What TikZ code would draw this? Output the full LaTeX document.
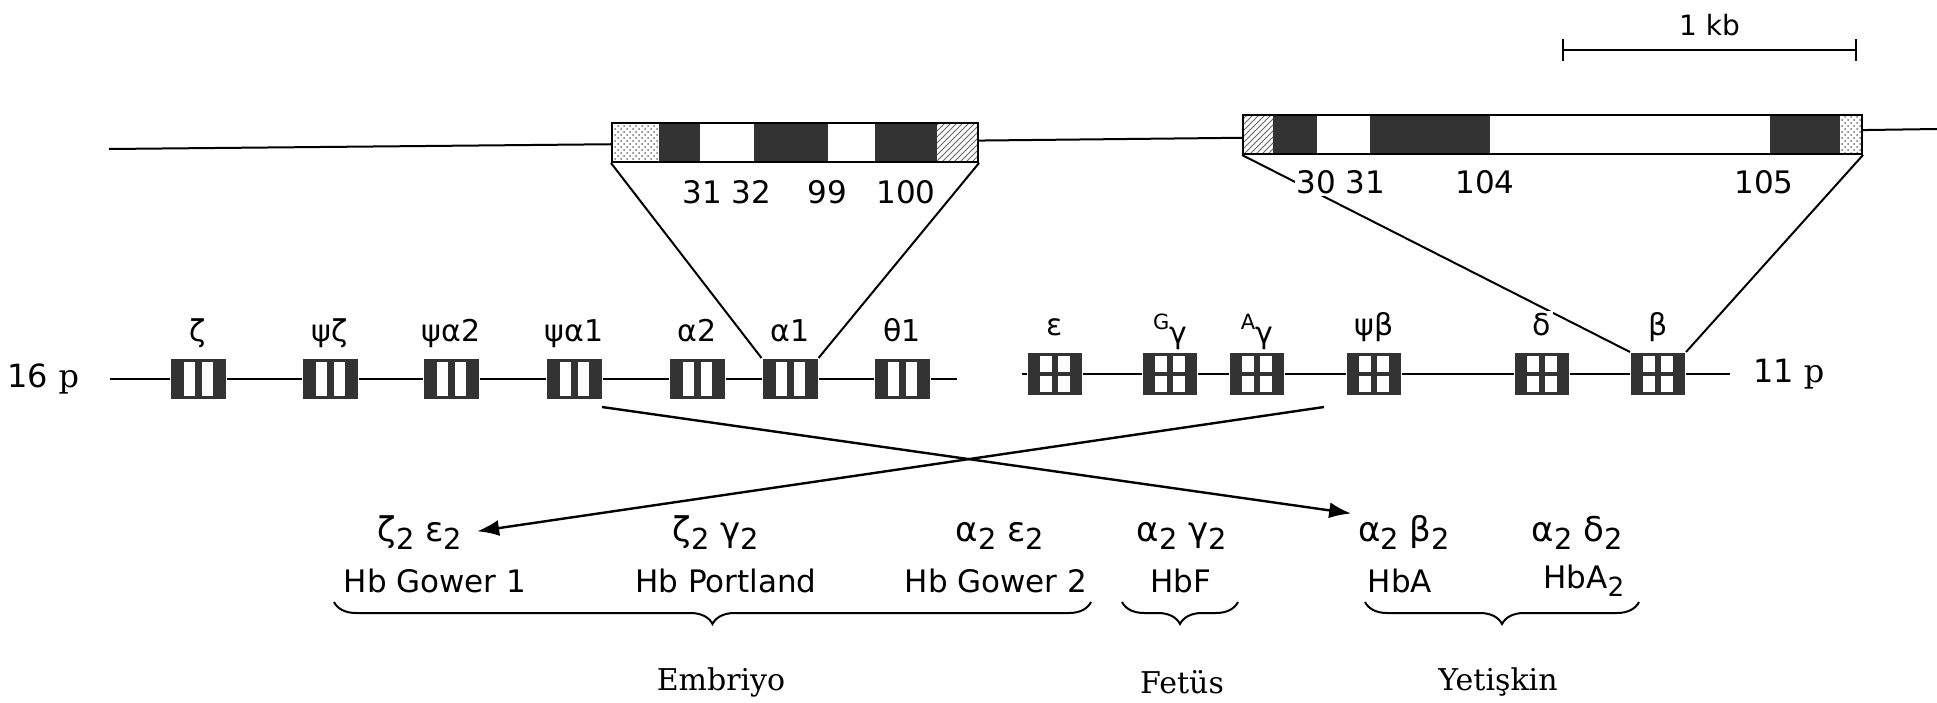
\documentclass[tikz,border=0pt]{standalone}
\usepackage{fontspec}
\setmainfont{DejaVu Serif}
\setsansfont{DejaVu Sans}
\usetikzlibrary{positioning,arrows.meta,patterns,decorations.pathreplacing}
\tikzstyle{exon}=[fill=black!80]
\tikzstyle{agene}=[rectangle,fill=black!80,inner sep=0pt,minimum width=27.5pt,minimum height=20pt,
  path picture={\foreach \i in {6.5,15.5} \fill[white] ([xshift=\i pt,yshift=1.5pt]path picture bounding box.south west) rectangle ++(5.5pt,17pt);}]
\tikzstyle{bgene}=[rectangle,fill=black!80,inner sep=0pt,minimum width=27pt,minimum height=21pt,
  path picture={\foreach \i in {6,15} \foreach \j in {1.5,11.5} \fill[white] ([xshift=\i pt,yshift=\j pt]path picture bounding box.south west) rectangle ++(6pt,8pt);}]
\tikzstyle{glabel}=[font=\sffamily\fontsize{15}{15}\selectfont,fill=white,inner sep=1pt,text height=11pt,text depth=4pt]
\tikzstyle{num}=[font=\sffamily\fontsize{15.5}{16}\selectfont,fill=white,inner sep=1pt]
\tikzstyle{pair}=[font=\sffamily\fontsize{17}{18}\selectfont,inner sep=1pt,text height=12pt,text depth=4pt]
\tikzstyle{hb}=[font=\sffamily\fontsize{15.5}{18}\selectfont,inner sep=1pt]
\tikzstyle{stage}=[font=\rmfamily\fontsize{15}{16}\selectfont,inner sep=1pt]
\tikzstyle{arm}=[font=\sffamily\fontsize{16}{18}\selectfont,inner sep=1pt]
\tikzstyle{arr}=[-{Latex[length=11pt,width=8pt]},line width=1.2pt]
\tikzstyle{brc}=[decorate,decoration={brace,mirror,amplitude=11pt}]
\newcommand{\dn}[1]{\raisebox{-0.45ex}{\scalebox{0.85}{#1}}}
\newcommand{\gpre}[1]{\raisebox{0.35ex}{\scalebox{0.7}{#1}}\raisebox{-0.5ex}{γ}}

\begin{document}
\begin{tikzpicture}[x=0.5pt,y=-0.5pt,line width=1pt]
\useasboundingbox (0,0) rectangle (1937,702);

% scale bar
\coordinate (kb1) at (1562,50);
\coordinate (kb2) at (1857,50);
\draw[{Bar[width=11pt]}-{Bar[width=11pt]}] (kb1) -- (kb2)
  node[midway,above=3pt,font=\sffamily\fontsize{14}{14}\selectfont] (kb) {1 kb};

% expanded alpha gene
\fill[pattern=crosshatch dots,pattern color=black!55] (612,123) rectangle (659,162);
\foreach \a/\b in {659/700,754/828,875/937} \fill[exon] (\a,123) rectangle (\b,162);
\fill[pattern=north east lines,pattern color=black!60] (937,123) rectangle (978,162);
\node[draw,inner sep=0pt,minimum width=183pt,minimum height=19.5pt] (abox) at (795,142.5) {};

% expanded beta gene
\fill[pattern=north east lines,pattern color=black!60] (1243,115) rectangle (1273,154);
\foreach \a/\b in {1273/1317,1370/1490,1770/1840} \fill[exon] (\a,115) rectangle (\b,154);
\fill[pattern=crosshatch dots,pattern color=black!55] (1840,115) rectangle (1862,154);
\node[draw,inner sep=0pt,minimum width=309.5pt,minimum height=19.5pt] (bbox) at (1552.5,134.5) {};

\coordinate (top1) at (109,149);
\coordinate (top2) at (1937,129);
\draw (top1) -- (abox) -- (bbox) -- (top2);

% chromosome 16
\foreach \n/\x in {z/198,pz/330,pa2/451,pa1/574,a2/697,a1/790,t1/902}
  \node[agene] (\n) at (\x,379) {};
\coordinate (p16) at (110,379);
\coordinate (aend) at (957,379);
\draw (p16) -- (z) -- (pz) -- (pa2) -- (pa1) -- (a2) -- (a1) -- (t1) -- (aend);
\node[arm,left=14pt of p16] (c16) {16 {\rmfamily p}};

% chromosome 11
\foreach \n/\x in {e/1055,gg/1170,ag/1257,pb/1374,d/1542,b/1658}
  \node[bgene] (\n) at (\x,374) {};
\coordinate (bstart) at (1022,374);
\coordinate (p11) at (1730,374);
\draw (bstart) -- (e) -- (gg) -- (ag) -- (pb) -- (d) -- (b) -- (p11);
\node[arm,right=10pt of p11] (c11) {11 {\rmfamily p}};

\draw (abox.south west) -- (a1.north west);
\draw (abox.south east) -- (a1.north east);
\draw (bbox.south west) -- (b.north west);
\draw (bbox.south east) -- (b.north east);

% globin chains
\foreach \n/\xa/\c/\xb/\h in {ze/420/{ζ\dn{2} ε\dn{2}}/435/Hb Gower 1,
    zg/716/{ζ\dn{2} γ\dn{2}}/726/Hb Portland,
    ae/1000/{α\dn{2} ε\dn{2}}/996/Hb Gower 2,
    agm/1182/{α\dn{2} γ\dn{2}}/1181/HbF,
    ab/1404/{α\dn{2} β\dn{2}}/1400/HbA,
    ad/1577/{α\dn{2} δ\dn{2}}/1584/{HbA\dn{2}}}
{
  \node[pair] (\n-c) at (\xa,533) {\c};
  \node[hb] (\n-h) at (\xb,581) {\h};
}

\coordinate (x1) at (602,407);
\coordinate (x2) at (1324,407);
\draw[arr,shorten >=2pt] (x1) -- (ab-c.north west);
\draw[arr,shorten >=6pt] (x2) -- (ze-c.east);

% labels
\foreach \n/\t in {z/ζ,pz/ψζ,pa2/ψα2,pa1/ψα1,a2/α2,a1/α1,t1/θ1,
    e/ε,gg/\gpre{G},ag/\gpre{A},pb/ψβ,d/δ,b/β}
  \node[glabel,above=3pt of \n] (\n-l) {\t};
\node[num] (n31) at (727,192) {31 32};
\node[num] (n99) at (827,192) {99};
\node[num] (n100) at (906,192) {100};
\node[num] (n30) at (1341,182) {30 31};
\node[num] (n104) at (1485,182) {104};
\node[num] (n105) at (1764,182) {105};

% stages
\coordinate (em1) at (334,602);
\coordinate (em2) at (1091,602);
\coordinate (fe1) at (1122,602);
\coordinate (fe2) at (1238,602);
\coordinate (ye1) at (1365,602);
\coordinate (ye2) at (1639,602);
\draw[brc] (em1) -- (em2);
\draw[brc] (fe1) -- (fe2);
\draw[brc] (ye1) -- (ye2);
\node[stage] (emb) at (721,682) {Embriyo};
\node[stage] (fet) at (1182,682) {Fetüs};
\node[stage] (yet) at (1498,682) {Yetişkin};
\end{tikzpicture}
\end{document}
